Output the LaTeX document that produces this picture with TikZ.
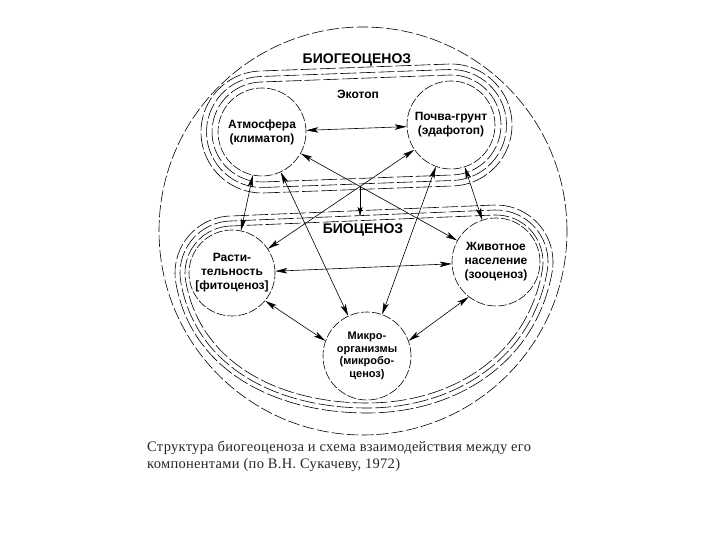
\documentclass[tikz,border=0pt]{standalone}
\usepackage{fontspec}
\setmainfont{Liberation Serif}
\setsansfont{Liberation Sans}
\usetikzlibrary{calc, positioning}
\usetikzlibrary{arrows.meta}

\tikzset{
  part/.style={circle, draw, line width=0.6pt, dash pattern=on 9pt off 2pt,
    minimum size=88pt, inner sep=0pt, align=center,
    font=\sffamily\bfseries\fontsize{12}{14}\selectfont},
  rim/.style={line width=0.6pt, dash pattern=on 16pt off 3pt},
  link/.style={{Stealth[length=12pt,width=5.5pt,inset=3pt]}-{Stealth[length=12pt,width=5.5pt,inset=3pt]}, line width=0.6pt},
  heading/.style={font=\sffamily\bfseries\fontsize{14}{16}\selectfont}
}

\begin{document}
\begin{tikzpicture}[x=1pt,y=1pt]
\useasboundingbox (0,0) rectangle (720,540);

% biogeocenosis
\draw[line width=0.6pt, dash pattern=on 12pt off 3pt] (363,309) circle (204);
\node[heading] (biogeo) at (357,480) {БИОГЕОЦЕНОЗ};

% components
\node[part] (atm) at (262,408) {Атмосфера\\(климатоп)};
\node[part] (pochva) at (451,415) {Почва-грунт\\(эдафотоп)};
\node[part, minimum size=86pt] (rast) at (232,267) {Расти-\\тельность\\{[}фитоценоз{]}};
\node[part] (zhiv) at (496,278) {Животное\\население\\(зооценоз)};
\node[part, font=\sffamily\bfseries\fontsize{11}{12.5}\selectfont] (mikro) at (367,184) {Микро-\\организмы\\(микробо-\\ценоз)};

% ecotope
\foreach \r in {50,55.5,61} {
  \draw[rim] ($(atm)+(-87.88:\r)$) -- ($(pochva)+(-87.88:\r)$)
    arc[start angle=-87.88, end angle=92.12, radius=\r]
    -- ($(atm)+(92.12:\r)$) arc[start angle=92.12, end angle=272.12, radius=\r] -- cycle;
}
\node[font=\sffamily\bfseries\fontsize{12}{14}\selectfont] (ekotop) at (358,446) {Экотоп};

% biocenosis
\foreach \r in {47,52,57} {
  \draw[rim] ($(rast)+(92.39:\r)$) arc[start angle=92.39, end angle=190, radius=\r]
    to[out=280, in=180] ($(mikro)+(270:\r)$)
    to[out=0, in=260] ($(zhiv)+(-10:\r)$)
    arc[start angle=-10, end angle=92.39, radius=\r] -- cycle;
}
\node[heading] (bioc) at (363,310) {БИОЦЕНОЗ};

% links
\draw[link] (atm) -- (pochva);
\draw[link] (atm) -- (rast);
\draw[link] (atm) -- (mikro);
\draw[link] (atm) -- (zhiv);
\draw[link] (pochva) -- (rast);
\draw[link] (pochva) -- (mikro);
\draw[link] (pochva) -- (zhiv);
\draw[link] (rast) -- (zhiv);
\draw[link] (rast.-40) -- (mikro.160);
\draw[link] (zhiv.232) -- (mikro.20);

\coordinate (cross) at (intersection of atm--zhiv and pochva--rast);
\coordinate (biocline) at (360,324);
\draw[-{Stealth[length=9pt,width=5pt,inset=2pt]}, line width=0.6pt] (cross) -- (cross |- biocline);

\node[anchor=north west, align=left, inner sep=0pt, text=black!85,
  font=\fontsize{14.5}{17}\selectfont\addfontfeature{LetterSpace=2}] (caption) at (147,99)
  {Структура биогеоценоза и схема взаимодействия между его\\компонентами (по В.Н. Сукачеву, 1972)};

\end{tikzpicture}
\end{document}
